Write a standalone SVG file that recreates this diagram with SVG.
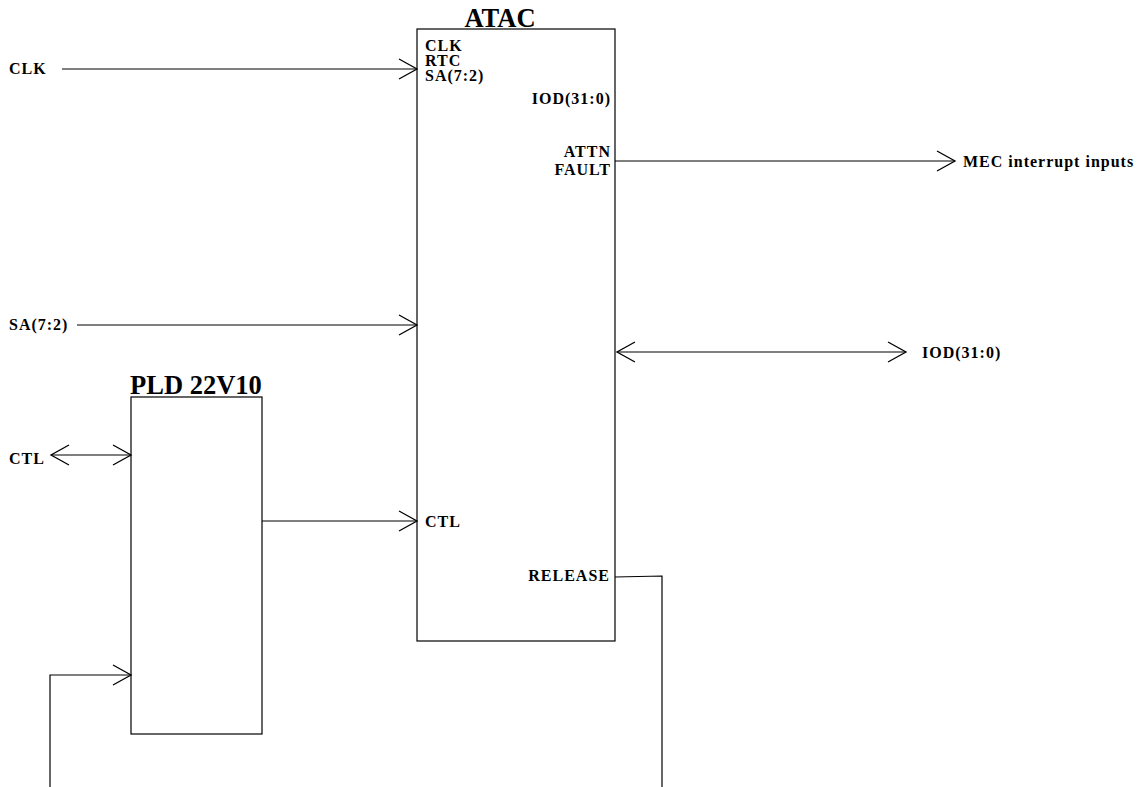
<svg xmlns="http://www.w3.org/2000/svg" width="1141" height="787" viewBox="0 0 1141 787">
<style>
text{font-family:"Liberation Serif","Times New Roman",serif;font-weight:bold;fill:#000}
.lbl{font-size:16px;letter-spacing:1px}
.ttl{font-size:26.5px}
.box{fill:#fff;stroke:#000;stroke-width:1.2}
.wire{fill:none;stroke:#000;stroke-width:1.2}
</style>
<defs>
<marker id="arr" markerUnits="userSpaceOnUse" markerWidth="24" markerHeight="24" viewBox="-20 -12 24 24" refX="0" refY="0" orient="auto-start-reverse">
<path d="M-18,-10 L0,0 L-18,10" fill="none" stroke="#000" stroke-width="1.3"/>
</marker>
</defs>
<g id="atac">
<rect class="box" x="417" y="29" width="198" height="612"/>
<text class="ttl" x="500" y="27" text-anchor="middle">ATAC</text>
<text class="lbl" x="425" y="51">CLK</text>
<text class="lbl" x="425" y="66">RTC</text>
<text class="lbl" x="425" y="81">SA(7:2)</text>
<text class="lbl" x="611" y="104" text-anchor="end">IOD(31:0)</text>
<text class="lbl" x="611" y="157" text-anchor="end">ATTN</text>
<text class="lbl" x="611" y="175" text-anchor="end">FAULT</text>
<text class="lbl" x="425" y="527">CTL</text>
<text class="lbl" x="610" y="581" text-anchor="end">RELEASE</text>
</g>
<g id="pld">
<rect class="box" x="131" y="397" width="131" height="337"/>
<text class="ttl" x="196" y="394" text-anchor="middle">PLD 22V10</text>
</g>
<g id="labels">
<text class="lbl" x="9" y="74">CLK</text>
<text class="lbl" x="9" y="330">SA(7:2)</text>
<text class="lbl" x="9" y="464">CTL</text>
<text class="lbl" x="963" y="167">MEC interrupt inputs</text>
<text class="lbl" x="922" y="358">IOD(31:0)</text>
</g>
<g id="connectors">
<path class="wire" d="M62,69 H417" marker-end="url(#arr)"/>
<path class="wire" d="M77,325 H417" marker-end="url(#arr)"/>
<path class="wire" d="M615,161 H955" marker-end="url(#arr)"/>
<path class="wire" d="M617,352 H906" marker-start="url(#arr)" marker-end="url(#arr)"/>
<path class="wire" d="M51,455 H131" marker-start="url(#arr)" marker-end="url(#arr)"/>
<path class="wire" d="M262,521 H417" marker-end="url(#arr)"/>
<path class="wire" d="M615,577 L662,576 V787"/>
<path class="wire" d="M50,787 V675 H131" marker-end="url(#arr)"/>
</g>
</svg>
